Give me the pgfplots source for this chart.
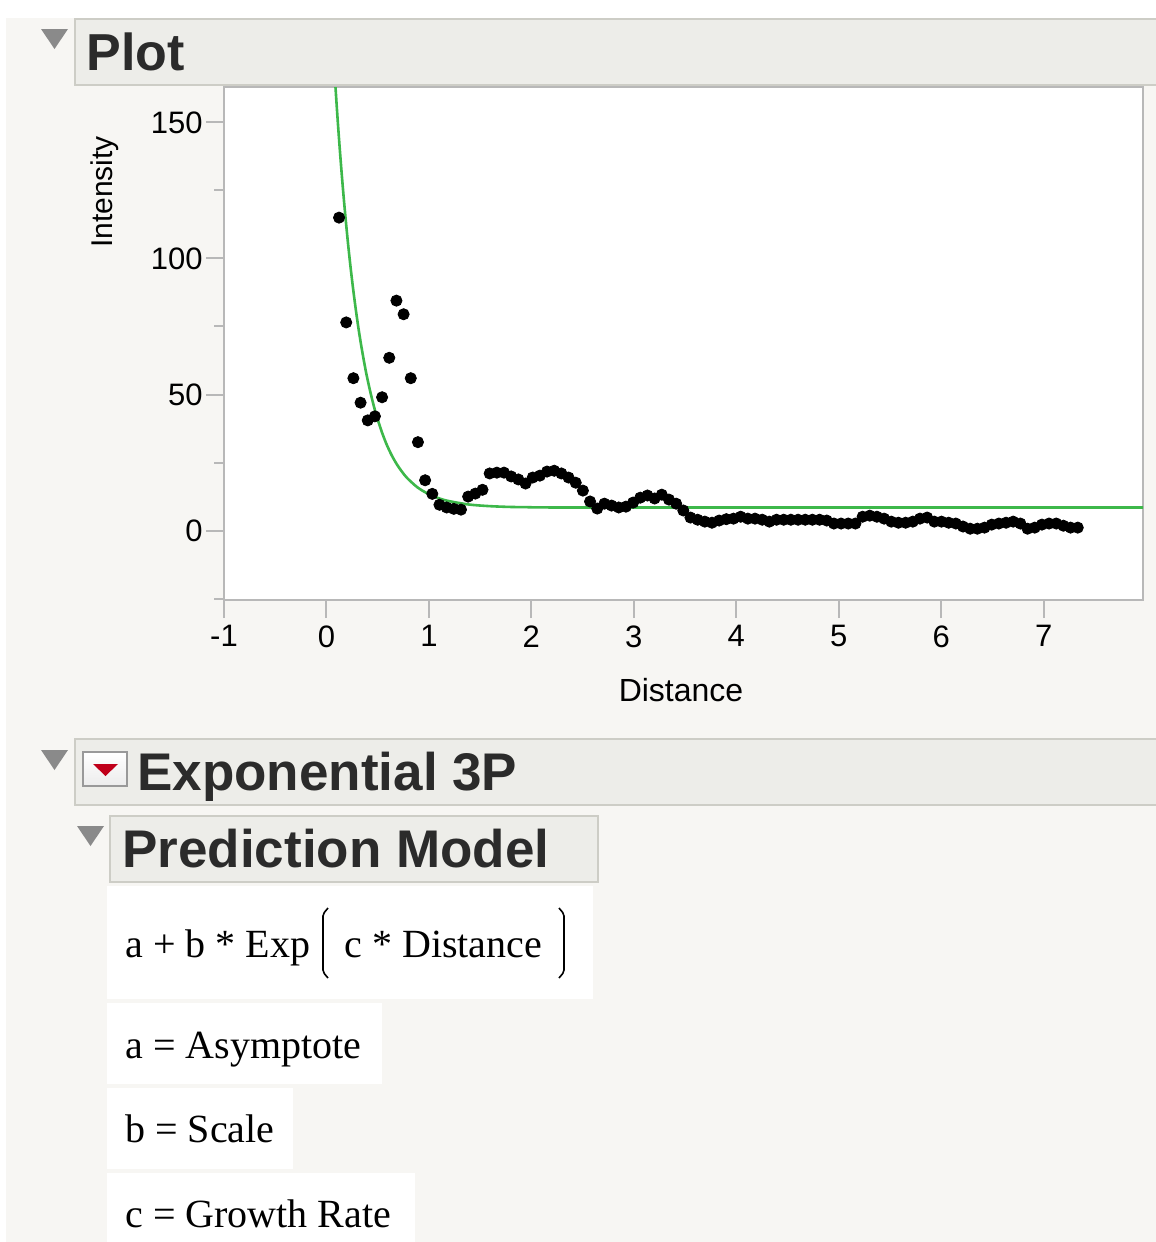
\documentclass[border=0pt]{standalone}
\usepackage{pgfplots}
\pgfplotsset{compat=1.18}
\usepackage{pgfplotstable}
\usepackage{fontspec}
\setmainfont{Liberation Sans}
\newfontfamily\serif{Liberation Serif}
\definecolor{bgc}{HTML}{F7F6F3}
\definecolor{hdrfill}{HTML}{EDEDE9}
\definecolor{hdrline}{HTML}{CDCDC6}
\definecolor{framec}{HTML}{B8B8B8}
\definecolor{tri}{HTML}{8A8A8A}
\definecolor{hdrtext}{HTML}{2B2B2B}
\definecolor{fitgreen}{HTML}{3DB84A}
\definecolor{jmpred}{HTML}{C0001A}

\pgfplotstableread{
x y
0.123 115
0.193 76.5
0.263 56
0.333 47
0.403 40.5
0.473 42
0.543 49
0.613 63.5
0.683 84.5
0.753 79.5
0.823 56
0.893 32.5
0.963 18.5
1.033 13.5
1.103 9.5
1.173 8.5
1.243 8
1.313 7.7
1.383 12.5
1.453 13.6
1.523 15
1.593 21
1.663 21.3
1.733 21.3
1.803 19.9
1.873 18.8
1.943 17.3
2.013 19.5
2.083 20.2
2.153 21.7
2.223 22
2.293 21
2.363 19.5
2.433 17.6
2.503 14.7
2.573 10.7
2.643 8.1
2.713 9.9
2.783 9.2
2.853 8.5
2.923 8.8
2.993 10.3
3.063 12.1
3.133 12.9
3.203 11.8
3.273 13.2
3.343 11.4
3.413 9.9
3.483 7.4
3.553 4.8
3.623 4.0
3.693 3.3
3.763 2.9
3.833 3.7
3.903 4.2
3.973 4.4
4.043 5.1
4.113 4.4
4.183 4.4
4.253 4.0
4.323 3.3
4.393 4.0
4.463 4.0
4.533 4.0
4.603 4.0
4.673 4.0
4.743 4.0
4.813 4.0
4.883 3.7
4.953 2.6
5.023 2.6
5.093 2.6
5.163 2.6
5.233 5.1
5.303 5.5
5.373 5.1
5.443 4.4
5.513 3.3
5.583 2.9
5.653 2.9
5.723 3.3
5.793 4.4
5.863 4.8
5.933 3.3
6.003 3.3
6.073 2.9
6.143 2.6
6.213 1.5
6.283 0.7
6.353 0.7
6.423 1.1
6.493 2.2
6.563 2.6
6.633 2.9
6.703 3.3
6.773 2.6
6.843 0.7
6.913 1.1
6.983 2.2
7.053 2.6
7.123 2.6
7.193 1.8
7.263 1.1
7.333 1.1
}\pts

\pgfplotstableread{
x y
0.070 175.0
0.088 163.1
0.113 149.0
0.138 136.3
0.163 124.7
0.188 114.2
0.213 104.6
0.238 95.9
0.263 88.0
0.288 80.8
0.313 74.2
0.338 68.3
0.363 62.9
0.388 57.9
0.413 53.5
0.438 49.4
0.463 45.7
0.488 42.3
0.538 36.5
0.588 31.6
0.638 27.6
0.688 24.3
0.738 21.6
0.788 19.3
0.888 15.9
0.988 13.6
1.088 12.0
1.188 10.9
1.388 9.6
1.588 9.0
1.788 8.7
1.988 8.6
2.488 8.5
7.970 8.5
}\fit

\begin{document}
\begin{tikzpicture}
\useasboundingbox (0,0) rectangle (578pt,-621pt);
\fill[white] (0,0) rectangle (578pt,-621pt);
\fill[bgc] (3pt,-9pt) rectangle (580pt,-625pt);

% Plot header
\filldraw[fill=hdrfill,draw=hdrline,line width=1pt] (37.5pt,-9.5pt) rectangle (590pt,-42.5pt);
\fill[tri] (20.5pt,-14.5pt) -- (34pt,-14.5pt) -- (27.25pt,-24.5pt) -- cycle;
\node[anchor=base west,inner sep=0pt,text=hdrtext,font=\fontsize{26}{30}\selectfont\bfseries] at (43pt,-35pt) {Plot};

\begin{axis}[
  at={(112pt,-300pt)}, anchor=south west,
  scale only axis, width=459.5pt, height=256.5pt,
  xmin=-1, xmax=7.97, ymin=-25.5, ymax=163,
  axis background/.style={fill=white},
  axis line style={framec,line width=1pt},
  xtick={-1,0,...,7}, ytick={0,50,100,150},
  minor ytick={-25,25,75,125},
  xtick pos=bottom, ytick pos=left,
  tick align=outside,
  major tick length=9pt, minor tick length=5pt,
  tick style={color=framec,line width=1pt},
  /pgf/number format/assume math mode=true,
  ticklabel style={font=\fontsize{15.5}{18}\selectfont, text=black},
  yticklabel style={inner sep=1.5pt},
  xticklabel style={inner sep=3.5pt},
  clip=true,
]
\addplot[fitgreen, line width=1.3pt, smooth] table[x=x,y=y] {\fit};
\addplot[only marks, mark=*, mark size=2.8pt, black] table[x=x,y=y] {\pts};
\end{axis}

\node[font=\fontsize{16}{19}\selectfont] at (340.5pt,-345pt) {Distance};
\node[rotate=90,font=\fontsize{15}{18}\selectfont] at (52.5pt,-96pt) {Intensity};

% Exponential 3P header
\filldraw[fill=hdrfill,draw=hdrline,line width=1pt] (37.5pt,-369.5pt) rectangle (590pt,-402.5pt);
\fill[tri] (20.5pt,-375pt) -- (34pt,-375pt) -- (27.25pt,-385pt) -- cycle;
\shade[top color=white,bottom color=gray!15] (41.5pt,-376pt) rectangle (63.5pt,-393pt);
\draw[gray!80,line width=0.8pt] (41.5pt,-376pt) rectangle (63.5pt,-393pt);
\fill[jmpred] (46.5pt,-382pt) -- (59pt,-382pt) -- (52.75pt,-388pt) -- cycle;
\node[anchor=base west,inner sep=0pt,text=hdrtext,font=\fontsize{26.5}{30}\selectfont\bfseries] at (68.5pt,-395pt) {Exponential 3P};

% Prediction Model
\filldraw[fill=hdrfill,draw=hdrline,line width=1pt] (55pt,-408pt) rectangle (299pt,-441pt);
\fill[tri] (38.5pt,-413pt) -- (52pt,-413pt) -- (45.25pt,-423pt) -- cycle;
\node[anchor=base west,inner sep=0pt,text=hdrtext,font=\fontsize{26.5}{30}\selectfont\bfseries] at (61pt,-433.5pt) {Prediction Model};

% White boxes
\fill[white] (53.5pt,-443pt) rectangle (296.5pt,-499.5pt);
\fill[white] (53.5pt,-501.5pt) rectangle (191pt,-542pt);
\fill[white] (53.5pt,-544pt) rectangle (146.5pt,-584.5pt);
\fill[white] (53.5pt,-586.5pt) rectangle (207.5pt,-625pt);

\node[anchor=base west,inner sep=0pt,font=\serif\fontsize{20}{24}\selectfont] at (62.5pt,-478.5pt) {a + b * Exp};
\draw[line width=0.8pt,rounded corners=1pt] (164pt,-454pt) -- (161.5pt,-457pt) -- (161.5pt,-486pt) -- (164pt,-489pt);
\node[anchor=base west,inner sep=0pt,font=\serif\fontsize{20}{24}\selectfont] at (172pt,-478.5pt) {c * Distance};
\draw[line width=0.8pt,rounded corners=1pt] (279.5pt,-454pt) -- (282pt,-457pt) -- (282pt,-486pt) -- (279.5pt,-489pt);

\node[anchor=base west,inner sep=0pt,font=\serif\fontsize{20}{24}\selectfont] at (62.5pt,-529pt) {a = Asymptote};
\node[anchor=base west,inner sep=0pt,font=\serif\fontsize{20}{24}\selectfont] at (62.5pt,-571pt) {b = Scale};
\node[anchor=base west,inner sep=0pt,font=\serif\fontsize{20}{24}\selectfont] at (62.5pt,-613.5pt) {c = Growth Rate};
\end{tikzpicture}
\end{document}
